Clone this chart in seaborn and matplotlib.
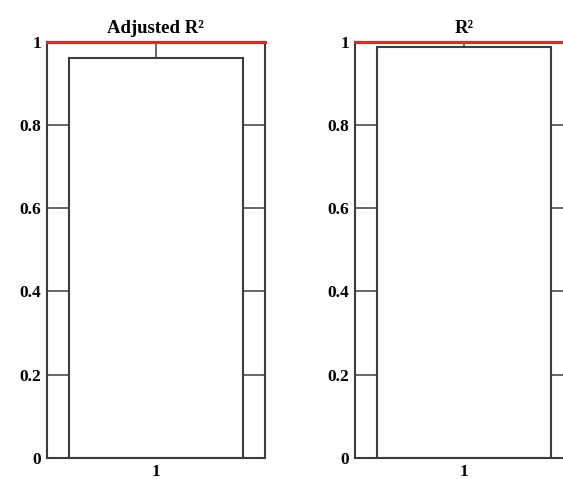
import matplotlib
matplotlib.use("Agg")
import matplotlib.pyplot as plt
import seaborn as sns
import pandas as pd

titles = ["Adjusted R²", "R²"]
categories = ["1"]
values = [[0.962], [0.988]]
yticks = [0, 0.2, 0.4, 0.6, 0.8, 1]
ytick_labels = ["0", "0.2", "0.4", "0.6", "0.8", "1"]
ref_value = 1.0

plt.rcParams['font.family'] = ['Liberation Serif', 'DejaVu Serif']
plt.rcParams['font.weight'] = 'bold'

W, H = 563, 479
fig = plt.figure(figsize=(W / 100, H / 100), dpi=100)
edge = '#3c3c3c'
axes_px = [(46.7, 41.7, 218.3, 416.3), (355.0, 41.7, 218.3, 416.3)]

for (x0, y0, w, h), title, vals in zip(axes_px, titles, values):
    ax = fig.add_axes([x0 / W, (H - y0 - h) / H, w / W, h / H])
    df = pd.DataFrame({"cat": categories, "val": vals})
    sns.barplot(data=df, x="cat", y="val", ax=ax, color="white",
                edgecolor=edge, linewidth=1.5, width=0.8, saturation=1)
    ax.set_xlim(-0.5, 0.5)
    ax.set_ylim(0, 1)
    ax.set_yticks(yticks)
    ax.set_yticklabels(ytick_labels)
    ax.set_xlabel("")
    ax.set_ylabel("")
    ax.set_axisbelow(True)
    ax.tick_params(axis='both', direction='in', length=20, width=1.1,
                   color=edge, top=True, right=True, labelsize=12.5, pad=4)
    for lab in ax.get_xticklabels() + ax.get_yticklabels():
        lab.set_fontweight('bold')
    for s in ax.spines.values():
        s.set_color(edge)
        s.set_linewidth(1.5)
    ax.spines['top'].set_visible(False)
    ax.axhline(ref_value, color='#e8241e', linewidth=2.2, zorder=4, clip_on=False)
    ax.set_title(title, fontsize=13.5, fontweight='bold', pad=6)

fig.savefig("out.png", dpi=100)
